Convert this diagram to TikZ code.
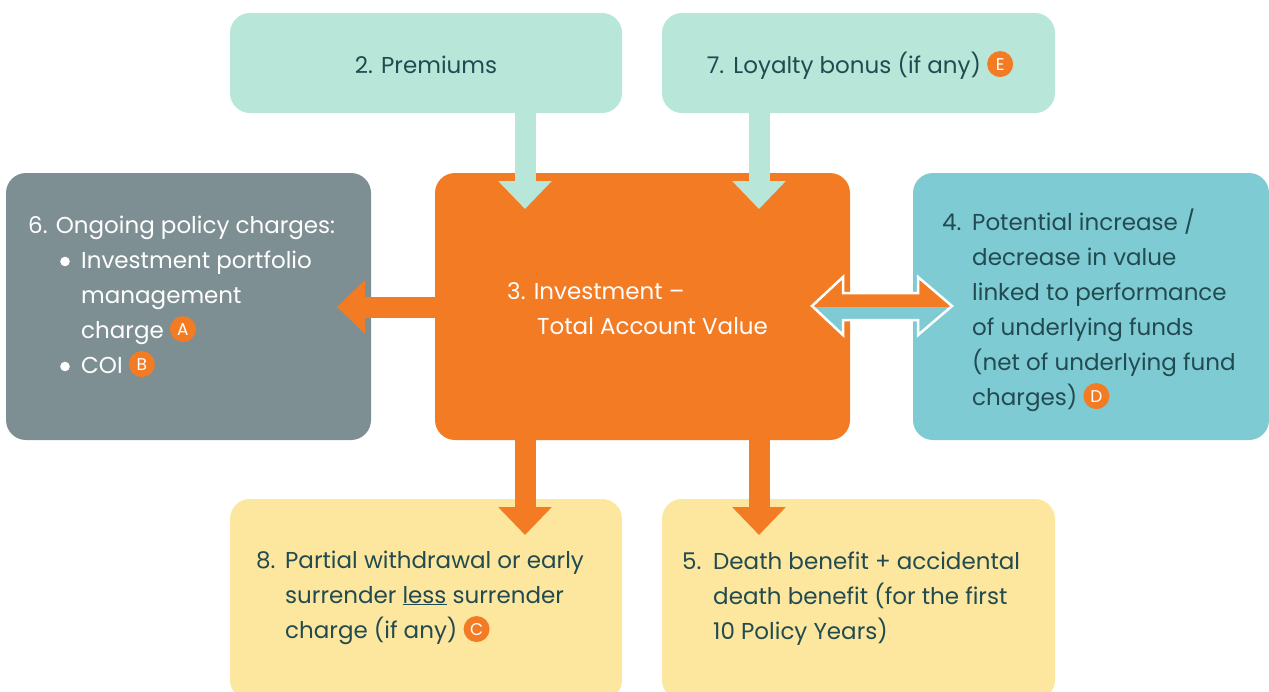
\documentclass[tikz,border=0pt]{standalone}
\usepackage{fontspec}
\setmainfont{Poppins}
\usetikzlibrary{arrows.meta}
\definecolor{mintbox}{HTML}{B8E6D9}
\definecolor{orangebox}{HTML}{F37B23}
\definecolor{greybox}{HTML}{7E8F94}
\definecolor{tealbox}{HTML}{7FCBD4}
\definecolor{yellowbox}{HTML}{FDE69E}
\definecolor{darktext}{HTML}{214B50}
\tikzset{
  box/.style={rounded corners=20pt, inner sep=0pt},
  txt/.style={inner sep=0pt, align=left, anchor=base west, text=darktext},
  flow/.style={line width=21pt, -{Triangle[length=28pt,width=52pt]}},
  badgenode/.style={circle, fill=orangebox, text=white, inner sep=0pt,
    minimum size=26pt, font=\fontsize{17}{17}\selectfont}
}
\newcommand\badge[1]{\tikz[baseline={([yshift=-3pt]b.base)}]\node[badgenode] (b) {#1};}
\newcommand\dotmark{\tikz[baseline]\fill (5pt,6.5pt) circle (4.8pt);}
\begin{document}
\begin{tikzpicture}[x=1pt,y=-1pt]
                \useasboundingbox (0,0) rectangle (1269,691);
                {\fontsize{23}{35}\selectfont
                
                % Drawing boxes
                \node[box, fill=mintbox, minimum width=392, minimum height=100] (prem) at (426,63) {};%
                \node[box, fill=mintbox, minimum width=393, minimum height=100] (loyal) at (858.5,63) {};%
                \node[box, fill=greybox, minimum width=365, minimum height=267] (charges) at (188.5,306.5) {};%
                \node[box, fill=orangebox, minimum width=415, minimum height=267] (invest) at (642.5,306.5) {};%
                \node[box, fill=tealbox, minimum width=356, minimum height=267] (perf) at (1091,306.5) {};%
                \node[box, fill=yellowbox, minimum width=392, minimum height=201] (surr) at (426,599.5) {};%
                \node[box, fill=yellowbox, minimum width=393, minimum height=201] (death) at (858.5,599.5) {};%
                
                % Marking arrow tips
                \coordinate (tipP) at (525,209);%
                \coordinate (tipL) at (759,209);%
                \coordinate (tipC) at (337,307);%
                \coordinate (tipS) at (525,535);%
                \coordinate (tipD) at (759,535);%
                
                % Drawing arrows into and out of the account
                \draw [flow, mintbox] (prem.south -| tipP) -- (tipP);%
                \draw [flow, mintbox] (loyal.south -| tipL) -- (tipL);%
                \draw [flow, orangebox] (invest.west |- tipC) -- (tipC);%
                \draw [flow, orangebox] (invest.south -| tipS) -- (tipS);%
                \draw [flow, orangebox] (invest.south -| tipD) -- (tipD);%
                
                % Drawing double arrow 3 <-> 4
                \def\dblarrow{(812,306) -- (843,277) -- (843,293) -- (918,293) -- (918,277) -- (952,306) -- (918,335) -- (918,320) -- (843,320) -- (843,335) -- cycle}%
                \fill [tealbox] \dblarrow;%
                \begin{scope}
                \clip (800,270) rectangle (960,306.5);%
                \fill [orangebox] \dblarrow;%
                \end{scope}
                \draw [white, line width=2.5pt, line join=miter] \dblarrow;%
                
                % Writing texts (base = last line)
                \node [txt, anchor=base] (premT) at (426,73) {2. Premiums};%
                \node [txt, anchor=base] (loyalT) at (860,73) {7.\hspace{0.4em}Loyalty bonus (if any) \badge{E}};%
                \node [txt, text=white] (chargesT) at (28,373) {6. Ongoing policy charges:\\
                  \hspace*{32pt}\makebox[21pt][l]{\dotmark}Investment portfolio\\
                  \hspace*{53pt}management\\
                  \hspace*{53pt}charge \badge{A}\\
                  \hspace*{32pt}\makebox[21pt][l]{\dotmark}COI \badge{B}};%
                \node [txt, text=white] (investT) at (507,334) {3. Investment –\\
                  \hspace*{30pt}Total Account Value};%
                \node [txt] (perfT) at (942,405) {\makebox[30pt][l]{4.}Potential increase /\\
                  \hspace*{30pt}decrease in value\\
                  \hspace*{30pt}linked to performance\\
                  \hspace*{30pt}of underlying funds\\
                  \hspace*{30pt}(net of underlying fund\\
                  \hspace*{30pt}charges) \badge{D}};%
                \node [txt] (surrT) at (256,638) {\makebox[29pt][l]{8.}Partial withdrawal or early\\
                  \hspace*{29pt}surrender \underline{less} surrender\\
                  \hspace*{29pt}charge (if any) \badge{C}};%
                \node [txt] (deathT) at (682,639) {\makebox[31pt][l]{5.}Death benefit + accidental\\
                  \hspace*{31pt}death benefit (for the first\\
                  \hspace*{31pt}10 Policy Years)};%
                }
            \end{tikzpicture}
\end{document}
